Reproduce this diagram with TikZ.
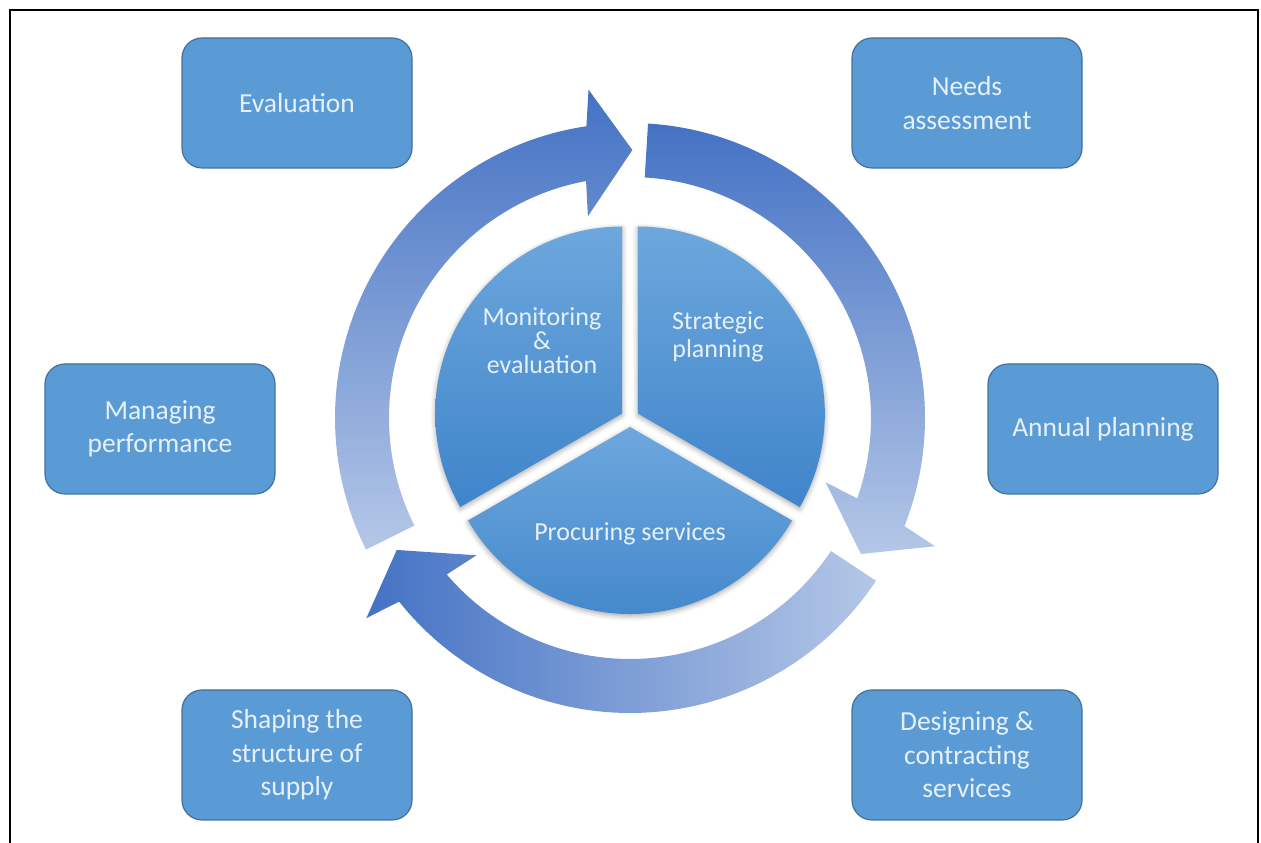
\documentclass[tikz,border=0pt]{standalone}
\usepackage{fontspec}
\setmainfont{Carlito}
\usepackage{xcolor}
\usepackage{tikz}
\usetikzlibrary{shadows.blur}

\definecolor{boxfill}{HTML}{5B9BD5}
\definecolor{boxline}{HTML}{41719C}
\definecolor{boxtext}{HTML}{E6F0FA}
\definecolor{slicetop}{HTML}{6DA7DD}
\definecolor{slicebot}{HTML}{3F85CA}
\definecolor{ringdark}{HTML}{4472C4}
\definecolor{ringlight}{HTML}{B4C7E7}

\begin{document}
\begin{tikzpicture}[x=1pt, y=1pt,
    phasebox/.style={draw=boxline, line width=1.2pt, fill=boxfill, rounded corners=20pt,
        minimum width=230pt, minimum height=130pt, align=center, text=boxtext,
        font=\fontsize{27.5}{33.5}\selectfont},
    slice/.style={top color=slicetop, bottom color=slicebot,
        blur shadow={shadow xshift=0pt, shadow yshift=-2pt, shadow blur radius=5pt, shadow opacity=35}},
    slicetext/.style={align=center, text=boxtext, font=\fontsize{26}{28}\selectfont},
    ringA/.style={top color=ringdark, bottom color=ringlight},
    ringB/.style={top color=ringdark, bottom color=ringlight},
    ringC/.style={left color=ringdark, middle color=ringlight!85!ringdark, right color=ringlight},
    ]
    % Frame
    \useasboundingbox (0, 0) rectangle (1261, 843);
    \draw [line width=2.5pt] (10, 0) -- (10, 833) -- (1258, 833) -- (1258, 0);

    % Ring of three curved arrows around the pie
    \begin{scope}[shift={(630, 425)}]
        \foreach \b/\look in {99.5/ringA, -20.5/ringB, 219.5/ringC}
            \path [\look] ({\b+107}:295) arc [start angle=\b+107, end angle=\b-1, radius=295]
                -- ({\b-2.3}:331) -- ({\b-10}:268) -- ({\b+2.3}:206) -- ({\b+1}:241)
                arc [start angle=\b+1, end angle=\b+107, radius=241] -- cycle;
    \end{scope}

    % Pie slices, pulled apart a little
    \path [slice] (622.2, 429.5) -- ++(90:187) arc [start angle=90, end angle=210, radius=187] -- cycle;
    \path [slice] (637.8, 429.5) -- ++(-30:187) arc [start angle=-30, end angle=90, radius=187] -- cycle;
    \path [slice] (630, 416) -- ++(210:187) arc [start angle=210, end angle=330, radius=187] -- cycle;

    % Slice labels
    \node [slicetext, font=\fontsize{26}{24}\selectfont] (monitor) at (542, 502) {Monitoring\\\&\\evaluation};
    \node [slicetext] (strategy) at (718, 506) {Strategic\\planning};
    \node [slicetext] (procure) at (630, 309) {Procuring services};

    % Stage boxes
    \node [phasebox] (eval) at (297, 740) {Evaluation};
    \node [phasebox] (needs) at (967, 740) {Needs\\assessment};
    \node [phasebox] (manage) at (160, 414) {Managing\\performance};
    \node [phasebox] (annual) at (1103, 414) {Annual planning};
    \node [phasebox] (shape) at (297, 88) {Shaping the\\structure of\\supply};
    \node [phasebox] (design) at (967, 88) {Designing \&\\contracting\\services};
\end{tikzpicture}
\end{document}
